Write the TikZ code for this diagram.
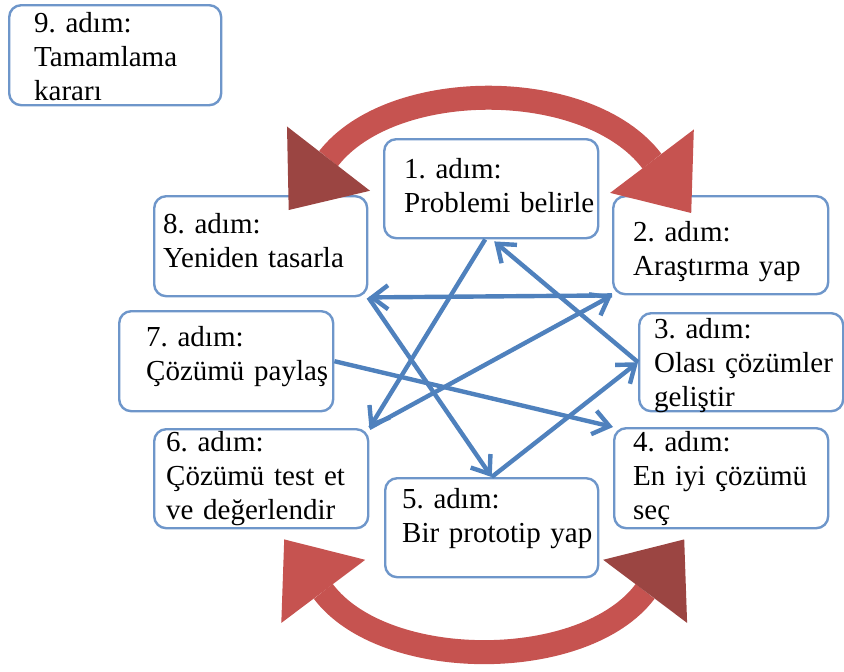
\documentclass[tikz,border=0pt]{standalone}
\usepackage{fontspec}
\setmainfont{Liberation Serif}
\usepackage{tikz}
\usetikzlibrary{arrows.meta,positioning,calc}
\frenchspacing
\hyphenpenalty=10000
\exhyphenpenalty=10000
\definecolor{boxblue}{HTML}{6E96CA}
\definecolor{linkblue}{HTML}{4F81BD}
\definecolor{loopred}{HTML}{C65350}
\definecolor{loopdark}{HTML}{9B4542}
\tikzset{
  stepbox/.style={
    rectangle, rounded corners=6pt, draw=boxblue, line width=1.2pt,
    fill=white, anchor=north west, align=left, inner ysep=0pt,
    font=\fontsize{14.5}{17}\selectfont
  },
  linkarrow/.style={-{Straight Barb[length=8pt,width=12pt]}, line width=2.2pt, color=linkblue},
  looparrow/.style={line width=12pt, color=loopred},
}
\begin{document}
\begin{tikzpicture}[x=0.5pt, y=-0.5pt]
  \useasboundingbox (0,0) rectangle (844,671);

  \node[stepbox, inner xsep=12.5pt, text width=81pt, text height=13.5pt, text depth=36.5pt] (step9) at (8,4) {9. adım:\\Tamamlama\\kararı};
  \node[stepbox, inner xsep=10pt, text width=87pt, text height=19.5pt, text depth=30pt] (step1) at (383,138) {1. adım:\\Problemi~belirle};
  \node[stepbox, inner xsep=10pt, text width=87.5pt, text height=22.5pt, text depth=26.5pt] (step2) at (612,195) {2. adım:\\Araştırma yap};
  \node[stepbox, inner xsep=4.5pt, text width=97.5pt, text height=18.5pt, text depth=31.5pt] (step8) at (153,195) {8. adım:\\Yeniden tasarla};
  \node[stepbox, inner xsep=13.5pt, text width=80pt, text height=17.5pt, text depth=32.5pt] (step7) at (118,310) {7. adım:\\Çözümü~paylaş};
  \node[stepbox, inner xsep=7.5pt, text width=87pt, text height=12.5pt, text depth=36.5pt] (step3) at (638,312) {3. adım:\\Olası~çözümler\\geliştir};
  \node[stepbox, inner xsep=6pt, text width=95pt, text height=11pt, text depth=38.5pt] (step6) at (153,428) {6. adım:\\Çözümü test et\\ve değerlendir};
  \node[stepbox, inner xsep=9.5pt, text width=88pt, text height=11.5pt, text depth=38.5pt] (step4) at (613,427) {4. adım:\\En iyi çözümü\\seç};
  \node[stepbox, inner xsep=8.5pt, text width=89.5pt, text height=15pt, text depth=34.5pt] (step5) at (384,477) {5. adım:\\Bir~prototip~yap};

  \draw[linkarrow] ($(step1.south)+(-6,0)$) -- (step6.north east);
  \draw[linkarrow] (step6.north east) -- (step2.south west);
  \draw[linkarrow] (step2.south west) -- (step8.south east);
  \draw[linkarrow] (step8.south east) -- (step5.north);
  \draw[linkarrow] (step5.north) -- (step3.west);
  \draw[linkarrow] (step3.west) -- ($(step1.south)+(3,2)$);
  \draw[linkarrow] (step7.east) -- (step4.north west);

  \draw[looparrow, {Triangle[length=32.5pt,width=52.5pt,line width=0pt,color=loopdark]}-{Triangle[length=32.5pt,width=52.5pt,line width=0pt]}]
    ($(step8.north)+(28,15)$) .. controls +(103,-133) and +(-103,-136) .. ($(step2.north)+(-29.5,18)$);
  \draw[looparrow, {Triangle[length=32.5pt,width=52.5pt,line width=0pt]}-{Triangle[length=32.5pt,width=52.5pt,line width=0pt,color=loopdark]}]
    ($(step6.south)+(23,10)$) .. controls +(100,133) and +(-100,133) .. ($(step4.south)+(-37,10)$);
\end{tikzpicture}
\end{document}
